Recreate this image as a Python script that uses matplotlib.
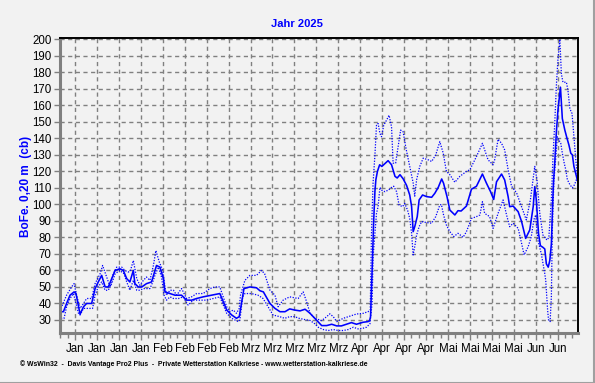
import numpy as np
import matplotlib.pyplot as plt
from matplotlib.lines import Line2D

# Tage seit 1. Januar 2025 (0 = 1. Jan)
mittel_tag = [0.5, 1.3, 2.3, 3.4, 4.7, 5.3, 6.6, 7.7, 8.7, 10.3, 11.4, 12.4, 13.5, 14.6, 15.6,
              16.7, 17.8, 19.3, 20.4, 21.5, 22.5, 23.6, 24.1, 25.2, 26.3, 27.8, 29.4, 30.5,
              31.0, 32.1, 33.2, 33.7, 35.3, 36.9, 39.0, 40.6, 42.2, 43.8, 45.9, 48.6, 51.2,
              52.1, 53.4, 55.0, 56.5, 57.4, 58.1, 58.9, 60.8, 62.9, 64.0, 65.1, 67.2, 68.8,
              70.4, 72.0, 73.5, 75.1, 76.8, 78.4, 80.0, 82.0, 83.7, 85.3, 86.9, 88.5, 90.0,
              91.6, 93.2, 94.8, 96.9, 98.5, 99.0, 99.3, 99.8, 100.3, 100.7, 101.0, 101.5,
              102.2, 102.9, 104.9, 106.0, 107.1, 107.8, 108.7, 109.7, 110.8, 111.8, 112.4,
              112.9, 113.4, 114.2, 114.8, 115.9, 117.2, 118.8, 119.8, 120.9, 122.0, 122.6,
              123.7, 124.6, 126.2, 127.2, 128.2, 129.9, 131.5, 133.1, 135.0, 136.3, 137.6,
              138.6, 139.5, 141.1, 142.1, 143.2, 143.7, 144.8, 146.4, 147.5, 148.8, 150.1,
              151.2, 151.7, 152.2, 152.9, 153.5, 154.3, 154.9, 155.4, 156.0, 156.5, 157.0,
              157.4, 157.7, 158.1, 158.6, 159.1, 159.9, 160.5, 161.3, 162.0, 162.6, 163.2,
              163.7, 164.2, 165.0, 165.4]
mittel_wert = [35, 35, 40, 45, 47, 46, 33.5, 38, 40, 40, 49, 53, 57, 50, 50,
               55, 60, 61, 60, 55, 53, 60, 52, 50, 50, 52, 53, 60,
               63, 62, 55, 47, 46, 45, 45, 42, 42, 43, 44, 45, 46,
               42, 36, 33, 31, 32, 40, 49, 50, 49.5, 47.7, 47, 40, 37,
               35, 35, 36.7, 36, 35.5, 36.5, 34, 30, 26.6, 26.6, 27.4, 26.4, 26.4,
               27.4, 28.4, 27.4, 28.6, 29, 29.5, 32, 60, 90, 108, 115, 120,
               124, 123, 126.5, 124, 117, 116, 118, 115.5, 111.5, 105.7, 98.7,
               83.5, 86.5, 92.6, 102.7, 105.7, 104.7, 104.3, 106.7, 110.3, 115.4, 112.8,
               104.7, 96.6, 93.6, 96.2, 96, 99, 109.2, 111, 118.4, 112.8, 107.7,
               103, 113.7, 118.4, 114.8, 104.7, 98.6, 99, 95.6, 89.6, 79.4, 84.5,
               98.6, 110.8, 102.7, 82.5, 75, 74, 73, 64, 62, 66, 76,
               100, 114, 126, 144, 157, 171, 152, 145, 140, 136, 131,
               130, 123, 117, 114]

max_tag = [0.5, 2.3, 3.9, 4.7, 5.5, 6.6, 7.7, 8.7, 10.3, 11.4, 13.0, 13.8, 14.9, 16.2, 17.2,
           18.3, 19.9, 20.9, 22.0, 22.7, 23.6, 24.7, 25.7, 26.8, 27.8, 28.9, 30.0, 30.8,
           31.9, 33.0, 33.7, 34.2, 35.3, 36.4, 37.4, 39.0, 40.6, 42.2, 43.8, 45.9, 48.0,
           49.6, 51.2, 52.1, 53.4, 54.4, 55.5, 56.5, 57.4, 57.8, 59.2, 60.8, 62.9, 64.5,
           65.5, 67.2, 68.8, 69.8, 71.4, 73.5, 76.2, 77.8, 78.9, 80.0, 81.5, 83.7, 85.3,
           86.3, 87.4, 88.5, 90.6, 92.7, 94.8, 96.9, 98.5, 99.2, 99.6, 100.1, 100.7, 101.2,
           101.7, 102.3, 102.8, 103.5, 104.4, 105.2, 106.0, 106.5, 107.3, 108.1, 108.9,
           109.7, 110.6, 111.6, 112.9, 113.4, 114.0, 115.0, 116.1, 117.7, 118.8, 120.1,
           121.4, 122.5, 123.5, 124.6, 126.2, 127.8, 129.9, 131.0, 133.1, 135.0, 136.8,
           138.4, 138.9, 140.0, 141.1, 142.1, 143.2, 144.3, 145.9, 147.5, 149.0, 150.3,
           151.7, 152.4, 153.3, 154.3, 155.6, 156.2, 157.0, 157.5, 158.1, 158.6, 159.1,
           159.7, 160.2, 160.7, 161.8, 162.3, 162.9, 163.6, 164.2, 164.8, 165.3]
max_wert = [37, 45, 50, 52, 45, 37, 40, 43, 43, 52, 58, 63, 57, 50, 58,
            62, 62, 60, 59, 60, 66, 55, 51, 54, 56, 54, 63, 72,
            65, 60, 50, 45, 48, 48, 45, 49, 43, 44, 46, 46, 49,
            50, 50, 45, 38, 35, 36, 34, 37, 45, 54, 57, 57, 60,
            58, 48, 45, 38, 42, 44, 43, 47, 41, 34, 31, 29.6, 32,
            33.7, 32, 29, 31, 32.3, 33.6, 34, 35, 36, 82.5, 112.8, 130, 148,
            149, 143, 141, 148, 151, 154, 147, 125, 125, 135, 145,
            144, 134, 125, 113, 105, 115, 123, 128, 127, 126, 130,
            138, 131, 120, 118, 113.4, 117, 120, 121, 129, 137, 127,
            124, 127, 139.5, 137, 133, 121, 111, 107, 98.6, 90.6, 102.7,
            123, 115, 94.6, 81.5, 78.4, 80, 103, 128, 150, 172, 188,
            200, 179, 174, 174, 169, 158, 155, 141, 127, 117]

min_tag = [0.5, 1.5, 2.3, 3.4, 4.5, 5.3, 6.1, 6.6, 7.7, 9.3, 10.6, 11.4, 12.4, 13.5, 14.6,
           15.6, 16.7, 17.8, 19.3, 20.6, 21.5, 22.5, 23.6, 24.7, 25.7, 26.8, 28.9, 29.8,
           30.5, 31.6, 32.6, 33.4, 34.2, 35.3, 36.4, 38.0, 39.5, 41.1, 42.7, 44.8, 47.0,
           49.1, 51.2, 52.1, 53.4, 55.0, 56.0, 57.1, 57.6, 58.5, 59.2, 61.3, 63.4, 65.0,
           66.6, 68.2, 70.3, 71.9, 73.5, 75.1, 76.5, 78.4, 80.0, 81.5, 82.6, 84.2, 85.8,
           87.4, 89.0, 90.6, 92.2, 93.8, 95.3, 96.9, 98.0, 99.1, 99.8, 100.1, 100.7, 101.2,
           101.7, 102.3, 102.8, 103.9, 105.0, 106.0, 106.7, 107.6, 108.4, 109.5, 110.2,
           111.1, 111.8, 112.4, 112.9, 113.4, 114.0, 114.8, 115.6, 117.2, 118.8, 120.1,
           121.4, 121.9, 122.6, 123.5, 124.6, 125.9, 127.2, 128.3, 128.8, 129.9, 131.5,
           133.1, 134.2, 135.0, 135.7, 137.3, 138.4, 140.0, 141.6, 142.7, 143.7, 144.8,
           146.4, 147.5, 148.3, 149.6, 150.6, 151.4, 152.0, 152.7, 153.8, 154.9, 155.2,
           155.5, 155.8, 156.1, 156.6, 157.0, 157.3, 157.8, 158.4, 158.9, 159.4, 160.0,
           160.5, 161.1, 161.6, 162.1, 162.9, 163.7, 164.4, 165.0, 165.4]
min_wert = [31, 31, 38, 43, 46, 40, 34, 33, 37, 37, 37, 45, 50, 53, 48,
            48, 52, 58, 60, 58, 53, 48, 54, 48, 48, 49, 49, 53,
            57, 62, 56, 45, 42, 44, 43, 43, 44, 39, 42, 42, 42,
            43, 44, 40, 34, 31, 30, 29, 30, 44, 46, 46, 45, 43,
            38, 33, 32, 31, 32, 32, 31, 30.2, 29.7, 27.7, 25.6, 24.2, 23.6,
            24.2, 23.6, 23.6, 24.2, 25.6, 24.6, 25, 25.6, 27.7, 40, 68, 82.5, 94.6,
            98.6, 110.3, 108.7, 107.7, 108.7, 110.3, 111, 107.7, 99.6, 98.6, 100.6,
            96.6, 91.5, 82.5, 69.4, 74.4, 81.5, 86.5, 89.6, 89, 88.6, 92.6,
            99.6, 100, 93.6, 87.5, 83.5, 80.5, 82.5, 80.9, 80, 83.5, 91.5,
            92.6, 93.6, 101.6, 94.6, 92.6, 85.5, 94.6, 102.7, 93.6, 86.5, 88.6,
            85.5, 76.4, 69.4, 74.4, 80.5, 90.6, 93.6, 78.4, 70, 58, 54,
            45, 36, 30, 29, 44, 84, 114, 128, 141, 139, 137,
            131, 125, 121, 115, 112, 110, 112, 115, 116]

# Wochenachse: Montag 6. Jan. + 7 Tage
ticks_labels = ['Jan', 'Jan', 'Jan', 'Jan', 'Feb', 'Feb', 'Feb', 'Feb',
                'Mrz', 'Mrz', 'Mrz', 'Mrz', 'Mrz', 'Apr', 'Apr', 'Apr', 'Apr',
                'Mai', 'Mai', 'Mai', 'Mai', 'Jun', 'Jun']
ticks_x = [5 + 7*i for i in range(len(ticks_labels))]

W, H = 595, 383
hg = '#f2f2f2'
blau = '#0000ff'
fig = plt.figure(figsize=(W/100, H/100), dpi=100, facecolor=hg)
ax = fig.add_axes([60/W, 1 - 333/H, 518/W, 295/H], facecolor=hg)

ax.plot(max_tag, max_wert, color=blau, lw=0.9, ls=(0, (1, 1.2)))
ax.plot(min_tag, min_wert, color=blau, lw=0.9, ls=(0, (1, 1.2)))
ax.plot(mittel_tag, mittel_wert, color=blau, lw=1.15)

ax.set_xticks(ticks_x)
ax.set_xticklabels(ticks_labels)
minor = np.arange(5 - 7, 166, 7/3)
ax.set_xticks(minor[(minor > 0.2) & (minor < 165.5)], minor=True)
ax.set_yticks(np.arange(30, 201, 10))
ax.set_xlim(0.2, 165.5)
ax.set_ylim(22.1, 200.8)

ax.grid(True, which='major', color='#808080', ls=(0, (3, 2.5)), lw=1.0)
ax.tick_params(axis='both', which='major', direction='out', length=4, width=1,
               color='#808080', labelsize=8.3, labelcolor='black')
ax.tick_params(axis='x', which='major', pad=2, length=5)
ax.tick_params(axis='x', which='minor', direction='out', length=3.5, width=1, color='#808080')
ax.tick_params(axis='y', which='major', pad=2)
for lab in ax.get_xticklabels() + ax.get_yticklabels():
    lab.set_family(['Liberation Sans', 'DejaVu Sans'])

for s in ['left', 'bottom']:
    ax.spines[s].set_color('#808080')
    ax.spines[s].set_linewidth(2.2)
for s in ['top', 'right']:
    ax.spines[s].set_color('black')
    ax.spines[s].set_linewidth(1.4)

fig.text(297/W, 1 - 24/H, 'Jahr 2025', color=blau, fontsize=8, fontweight='bold',
         ha='center', va='center', family=['Liberation Sans', 'DejaVu Sans'])
fig.text(26/W, 1 - 186/H, 'BoFe. 0,20 m  (cb)', color=blau, fontsize=8.5, fontweight='bold',
         ha='center', va='center', rotation=90, family=['Liberation Sans', 'DejaVu Sans'])
fig.text(20/W, 1 - 364/H,
         '© WsWin32  -  Davis Vantage Pro2 Plus  -  Private Wetterstation Kalkriese - www.wetterstation-kalkriese.de',
         color='black', fontsize=4.95, fontweight='bold', ha='left', va='center',
         family=['Liberation Sans', 'DejaVu Sans'])

# Fensterrahmen rechts und unten
fig.add_artist(Line2D([0, 1], [0.5/H, 0.5/H], transform=fig.transFigure, color='#a0a0a0', lw=1.5))
fig.add_artist(Line2D([1 - 1.5/W, 1 - 1.5/W], [0, 1], transform=fig.transFigure, color='#a0a0a0', lw=1.5))

fig.savefig('out.png', dpi=100, facecolor=hg)
